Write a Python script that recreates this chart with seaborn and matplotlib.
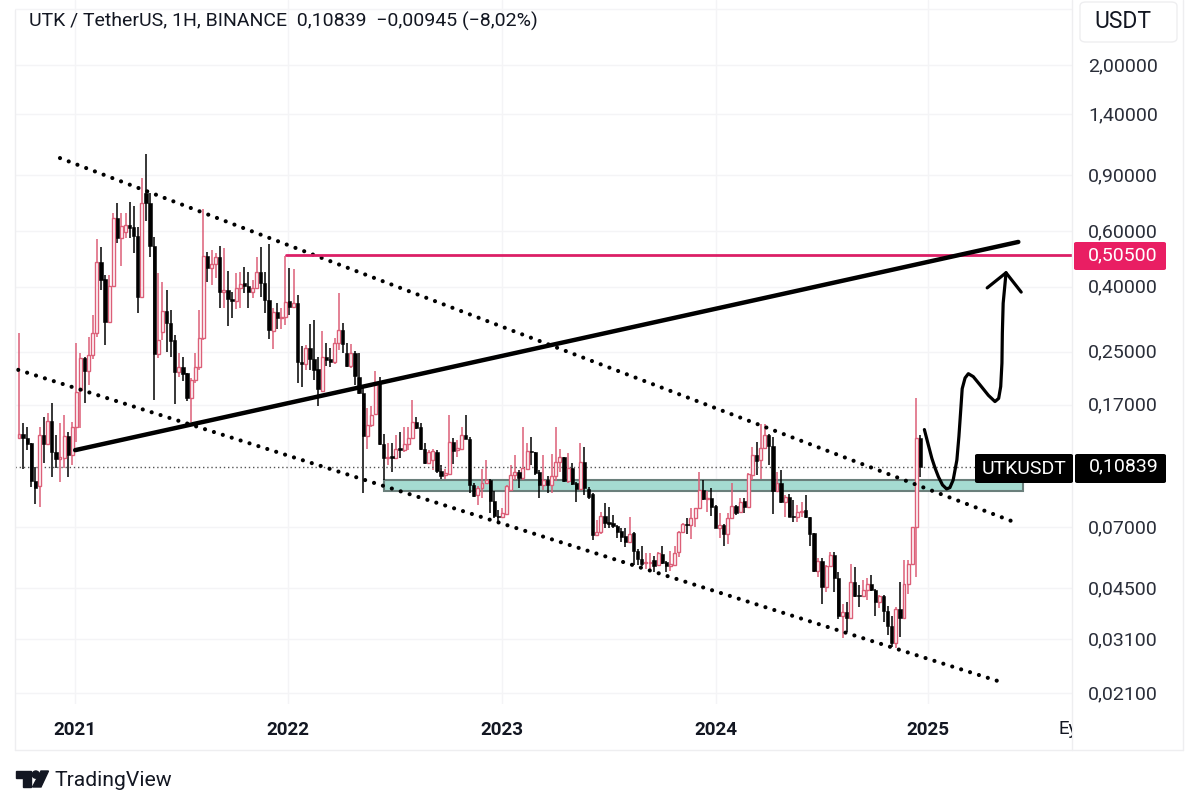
import numpy as np
import pandas as pd
import seaborn as sns
import matplotlib
matplotlib.use("Agg")
import matplotlib.pyplot as plt
from matplotlib.lines import Line2D
from matplotlib.patches import FancyBboxPatch, Polygon, Circle, Rectangle
from matplotlib.transforms import Bbox, ScaledTranslation

# one candle per week, R = up, B = down
direction = ("RBBBBRBRBB" "RRBRRRBRRR" "BBRRBRRBBB" "RBBBRRBBBR" "BBRRRRBRRB"
             "RBBRRBBRRB" "BBRBRRBRBB" "RBBBRBBRRB" "BRBBBRRRBB" "RBRBRRRBBB"
             "RRBBRRBRRB" "BBRRRBBBRR" "RRBRRBBBRB" "RRRBRBBRBB" "BRRBBBBBBR"
             "BBBRRBRBBR" "RRRBRRRBRB" "BRBRRBRBRR" "BRRBBRBRBB" "RRBBBRBRRB"
             "BRBRBBRRBB" "RBBBRBRRRR" "B")

body_top = [
    .138, .138, .134, .1287, .0978, .137, .137, .151, .151, .1205,
    .1163, .136, .136, .145, .186, .239, .239, .244, .286, .479,
    .479, .424, .402, .659, .659, .622, .626, .626, .617, .578,
    .735, .79, .735, .538, .272, .336, .336, .307, .272, .224,
    .224, .214, .203, .224, .276, .50, .50, .472, .496, .496,
    .391, .391, .367, .397, .408, .411, .402, .397, .446, .446,
    .411, .363, .333, .333, .321, .358, .361, .355, .355, .232,
    .257, .257, .237, .221, .241, .241, .237, .266, .292, .292,
    .248, .248, .248, .208, .185, .147, .158, .2, .2, .1277,
    .1163, .1171, .1232, .1241, .1277, .134, .15, .15, .145, .1232,
    .1205, .1214, .1205, .1051, .1036, .1296, .1296, .1241, .137, .137,
    .133, .095, .093, .0964, .0985, .0985, .0846, .076, .0776, .0943,
    .1021, .1043, .1043, .1074, .1214, .1214, .1205, .1043, .0985, .0985,
    .1014, .1122, .1163, .1163, .1074, .1074, .0964, .1122, .1122, .0923,
    .089, .0677, .076, .076, .0727, .0722, .0707, .0682, .0658, .0667,
    .0672, .0587, .0554, .0543, .0543, .055, .0578, .0574, .0543, .0535,
    .0578, .0677, .0717, .0717, .0749, .0805, .0916, .0916, .0865, .0865,
    .0816, .0712, .0712, .0749, .0816, .0816, .084, .0846, .1028, .118,
    .118, .1241, .137, .137, .1259, .0964, .0964, .0871, .0871, .076,
    .0782, .0787, .0793, .0754, .0672, .0547, .0547, .0528, .057, .057,
    .0484, .0379, .0379, .047, .047, .0428, .0444, .0464, .0464, .0444,
    .0425, .0425, .0382, .0341, .0387, .0387, .0464, .0535, .0702, .134,
    .134]

body_bot = [
    .134, .134, .1277, .0978, .093, .0943, .1277, .1277, .1205, .1146,
    .1146, .1154, .118, .118, .145, .189, .217, .217, .244, .286,
    .42, .31, .31, .402, .57, .57, .595, .613, .578, .372,
    .372, .735, .538, .246, .246, .288, .307, .27, .216, .216,
    .213, .178, .178, .203, .224, .276, .459, .459, .472, .385,
    .385, .367, .361, .361, .397, .402, .385, .385, .397, .411,
    .363, .292, .29, .319, .319, .321, .345, .345, .232, .229,
    .229, .237, .219, .19, .188, .235, .232, .232, .266, .264,
    .225, .225, .21, .185, .136, .136, .147, .159, .1277, .1154,
    .1154, .1154, .1154, .1223, .1223, .1277, .134, .144, .1232, .1113,
    .1113, .1138, .1051, .1014, .1021, .1028, .1214, .1223, .1232, .133,
    .095, .0877, .0884, .093, .0964, .0846, .076, .0754, .0754, .0771,
    .0916, .1021, .0999, .0999, .1066, .1205, .1036, .095, .095, .095,
    .095, .1014, .1122, .0978, .0978, .0957, .0923, .0923, .093, .0871,
    .0663, .0663, .0677, .0722, .0717, .0707, .0677, .0653, .0626, .0626,
    .0587, .0554, .0535, .0539, .0539, .0527, .0531, .0539, .0527, .0527,
    .0531, .0583, .0677, .0712, .0712, .0749, .0805, .0859, .0859, .081,
    .0697, .0697, .0667, .0667, .0749, .0776, .0782, .081, .081, .1021,
    .113, .1138, .1241, .1259, .091, .091, .084, .084, .0754, .0754,
    .0754, .0782, .0754, .0667, .0509, .0509, .0454, .0454, .0528, .0484,
    .0366, .0366, .0363, .0363, .0425, .0425, .0425, .0444, .0444, .0405,
    .0405, .0382, .0341, .0302, .0302, .0363, .0363, .0464, .0535, .0702,
    .1084]

highs = [
    .286, .149, .145, .1287, .1082, .145, .155, .160, .172, .137,
    .149, .158, .140, .150, .266, .248, .241, .278, .326, .566,
    .534, .436, .436, .683, .735, .683, .683, .741, .719, .617,
    .881, 1.049, .79, .574, .443, .414, .391, .338, .282, .248,
    .241, .214, .207, .248, .338, .704, .515, .522, .511, .538,
    .53, .449, .385, .443, .446, .462, .446, .42, .496, .534,
    .446, .546, .343, .355, .343, .50, .459, .455, .377, .26,
    .262, .305, .314, .241, .29, .266, .257, .276, .383, .307,
    .266, .264, .251, .248, .192, .166, .168, .217, .208, .138,
    .1287, .1287, .137, .14, .145, .145, .176, .155, .149, .1287,
    .1223, .1232, .1223, .1097, .1066, .158, .134, .1315, .145, .158,
    .135, .0964, .0943, .1066, .1138, .0992, .091, .0793, .0805, .095,
    .1097, .118, .1058, .145, .1287, .135, .1205, .1058, .118, .1014,
    .1188, .145, .1232, .1163, .1197, .1113, .0971, .1287, .125, .0936,
    .0897, .0738, .0782, .0834, .081, .0765, .0712, .0697, .0697, .0754,
    .0677, .0595, .0612, .0578, .0578, .0566, .0583, .0608, .0546, .0587,
    .0608, .0682, .0722, .0749, .0805, .0805, .1043, .0985, .091, .093,
    .0822, .0776, .0717, .0776, .0964, .0822, .0865, .0865, .1036, .125,
    .1296, .148, .148, .138, .135, .1043, .1058, .0884, .089, .0853,
    .0822, .084, .0884, .0754, .0672, .0558, .0558, .0532, .0583, .0583,
    .0506, .0402, .0405, .0535, .0524, .046, .0477, .0484, .0495, .0447,
    .0428, .0428, .0396, .0366, .0393, .047, .0551, .0551, .0702, .178,
    .137]

lows = [
    .134, .1066, .1223, .0936, .0828, .081, .1113, .1268, .1006, .1074,
    .0971, .1074, .1006, .1097, .1296, .144, .172, .196, .237, .278,
    .391, .262, .307, .40, .55, .465, .57, .57, .511, .331,
    .369, .645, .496, .176, .239, .272, .249, .241, .171, .208,
    .202, .175, .15, .199, .219, .272, .414, .405, .427, .343,
    .343, .301, .319, .34, .343, .383, .343, .369, .394, .372,
    .331, .274, .255, .294, .294, .303, .326, .343, .199, .193,
    .219, .219, .203, .168, .186, .225, .224, .229, .253, .248,
    .224, .222, .196, .184, .0897, .1232, .145, .158, .1268, .0985,
    .1097, .1043, .1146, .1154, .1205, .1223, .134, .143, .1223, .1105,
    .1105, .1058, .1036, .0992, .0992, .1021, .1105, .1163, .1223, .133,
    .0897, .0871, .0822, .0865, .0964, .0776, .0749, .0733, .0749, .0765,
    .091, .0985, .093, .0985, .1058, .1097, .1021, .0865, .0916, .0897,
    .0897, .0978, .1043, .0971, .0964, .095, .084, .0916, .0884, .0859,
    .0639, .0658, .0667, .0697, .0697, .0697, .0648, .063, .0604, .0626,
    .0531, .0531, .0527, .0516, .0505, .0505, .0527, .0535, .0505, .0509,
    .0527, .0562, .0677, .0667, .0644, .0702, .0799, .0853, .0782, .076,
    .0697, .0648, .0612, .0617, .0743, .0765, .0776, .0776, .0805, .0985,
    .1021, .0992, .1232, .1097, .0771, .0903, .0834, .0754, .0754, .0727,
    .0727, .0754, .0749, .0612, .0506, .0488, .0402, .0438, .0524, .0438,
    .0358, .0313, .0327, .0358, .0422, .0393, .0422, .0413, .0441, .0366,
    .039, .0352, .032, .0294, .0291, .0315, .0358, .0432, .0532, .0488,
    .1006]

# axis labels
price_ticks = [2.0, 1.4, 0.9, 0.6, 0.4, 0.25, 0.17, 0.07, 0.045, 0.031, 0.021]
grid_only_ticks = [3.0]
year_weeks = [13.6, 65.7, 117.9, 170.0, 221.8]
year_labels = ["2021", "2022", "2023", "2024", "2025"]

# hand drawn lines, x in weeks from the first candle
upper_week, upper_price = [10.0, 243.0], [1.018, 0.0725]
lower_week, lower_price = [-0.2, 239.4], [0.219, 0.0228]
support_week, support_price = [13.7, 243.9], [0.1223, 0.554]
target_week, target_price = [65.2, 257.0], [0.505, 0.505]
last_week, last_price = [-1.0, 257.0], [0.10839, 0.10839]
zone_week, zone_low, zone_high = [89.1, 245.1], 0.091, 0.0985
path_week = [220.97, 221.95, 222.8, 223.6, 224.4, 225.4, 226.4, 227.2, 228.0, 228.9, 229.4, 229.9, 230.2,
             230.9, 231.7, 232.9, 234.6, 236.6, 238.2, 239.1, 239.6, 239.9, 240.0, 240.2, 240.9]
path_price = [.142, .1268, .1152, .1072, .1008, .095, .0923, .0932, .0985, .1138, .1352, .1675, .191,
              .2065, .213, .2085, .196, .182, .174, .178, .194, .230, .286, .355, .443]
head_week = [236.3, 240.9, 244.6]
head_price = [.397, .443, .385]

W, H = 1200, 807
RED = "#dc5f78"
INK = "#131722"
GRID = "#f4f4f6"
PINK = "#e91e63"

sns.set_theme(style="white")
plt.rcParams["font.family"] = ["Roboto", "DejaVu Sans"]

fig = plt.figure(figsize=(W / 100, H / 100), dpi=100)
ax = fig.add_axes([15 / W, (H - 704) / H, 1057 / W, 704 / H])


def fx(x):
    return x / W


def fy(y):
    return 1 - y / H


df = pd.DataFrame({"top": body_top, "bot": body_bot, "high": highs, "low": lows,
                   "dir": list(direction)})
df["week"] = np.arange(len(df))
df["color"] = df["dir"].map({"R": RED, "B": "black"})

ax.set_yscale("log")
ax.set_xlim(-0.98, 257.0)
ax.set_ylim(0.01939, 3.205)

# zone under the candles
ax.add_patch(Rectangle((zone_week[0], zone_low), zone_week[1] - zone_week[0], zone_high - zone_low,
                       facecolor="#a5dbd1", edgecolor="#6a7f7b", lw=1.5, zorder=2))

# wicks and bodies
ax.vlines(df["week"], df["low"], df["high"], colors=df["color"], lw=1.1, zorder=3)
up = df[df["dir"] == "R"]
down = df[df["dir"] == "B"]
ax.bar(up["week"], up["top"] - up["bot"], bottom=up["bot"], width=0.72,
       facecolor="white", edgecolor=RED, lw=1.0, zorder=4)
ax.bar(down["week"], down["top"] - down["bot"], bottom=down["bot"], width=0.8,
       facecolor="black", edgecolor="black", lw=0.4, zorder=4)

# trend lines
sns.lineplot(x=last_week, y=last_price, ax=ax, color="#555555", lw=1.0,
             linestyle=(0, (1, 2)), zorder=3)
dot_style = dict(color="black", lw=3.0, linestyle=(0, (0.01, 2.23)), dash_capstyle="round", zorder=5)
sns.lineplot(x=upper_week, y=upper_price, ax=ax, **dot_style)
sns.lineplot(x=lower_week, y=lower_price, ax=ax, **dot_style)
sns.lineplot(x=target_week, y=target_price, ax=ax, color="#dc1f66", lw=2.0, zorder=5)
sns.lineplot(x=support_week, y=support_price, ax=ax, color="black", lw=3.2,
             solid_capstyle="round", zorder=6)
sns.lineplot(x=path_week, y=path_price, ax=ax, sort=False, estimator=None, color="black", lw=2.3,
             solid_capstyle="round", solid_joinstyle="round", zorder=6)
sns.lineplot(x=head_week, y=head_price, ax=ax, sort=False, estimator=None, color="black", lw=2.3,
             solid_capstyle="round", zorder=6)

# axes dressing
ax.set_yticks(price_ticks + grid_only_ticks)
ax.set_yticklabels([f"{p:.5f}".replace(".", ",") for p in price_ticks] + [""] * len(grid_only_ticks))
ax.minorticks_off()
ax.set_xticks(year_weeks)
ax.set_xticklabels(year_labels, fontweight="bold", fontsize=13.5, color=INK)
ax.tick_params(axis="x", length=0, pad=12.5)
ax.tick_params(axis="y", length=0, pad=11.5, labelsize=14, labelcolor="#2a2e39",
               left=False, right=False, labelleft=False, labelright=True)
up_1px = ScaledTranslation(0, 1 / 100, fig.dpi_scale_trans)
for lab in ax.get_yticklabels():
    lab.set_transform(lab.get_transform() + up_1px)
ax.grid(True, color=GRID, lw=1.0, zorder=0)
ax.set_axisbelow(True)
for s in ax.spines.values():
    s.set_visible(False)
ax.set_xlabel("")
ax.set_ylabel("")

# frame lines
for xs, ys in [((15, 15), (10, 750)), ((15, 1183), (750, 750)),
               ((1072, 1072), (0, 750)), ((1183, 1183), (0, 750))]:
    fig.add_artist(Line2D([fx(xs[0]), fx(xs[1])], [fy(ys[0]), fy(ys[1])], color="#eeeef0", lw=1.0))

ey = fig.text(fx(1059), fy(729), "Ey", fontsize=13.5, color=INK, va="center", ha="left")
ey.set_clip_on(True)
ey.set_clip_box(Bbox([[0, 0], [1072, H]]))

# header
fig.text(fx(29), fy(21), "UTK / TetherUS, 1H, BINANCE  0,10839  \u22120,00945 (\u22128,02%)",
         fontsize=14.0, color=INK, va="center", ha="left")


def label_box(x0, x1, y0, y1, color):
    fig.add_artist(FancyBboxPatch((fx(x0), fy(y1)), fx(x1 - x0), (y1 - y0) / H,
                                  boxstyle="round,pad=0,rounding_size=0.002",
                                  transform=fig.transFigure, facecolor=color, edgecolor="none",
                                  zorder=8))


# USDT button
fig.add_artist(FancyBboxPatch((fx(1080), fy(42)), fx(97), 40 / H,
                              boxstyle="round,pad=0,rounding_size=0.005",
                              transform=fig.transFigure, facecolor="white", edgecolor="#eeeef0",
                              lw=1.0, zorder=7))
fig.text(fx(1123), fy(22), "USDT", fontsize=16.5, color=INK, va="center", ha="center", zorder=9)

# price labels
label_box(1074, 1166, 242, 270, PINK)
fig.text(fx(1123), fy(255), "0,50500", fontsize=14, color="white", va="center", ha="center", zorder=9)
label_box(975, 1073, 454, 483, "black")
label_box(1075, 1166, 454, 483, "black")
fig.text(fx(1024), fy(469), "UTKUSDT", fontsize=14, color="white", va="center", ha="center", zorder=9)
fig.text(fx(1124), fy(466), "0,10839", fontsize=14, color="white", va="center", ha="center", zorder=9)

# TradingView logo
fig.add_artist(Polygon([(fx(16), fy(771)), (fx(31), fy(771)), (fx(31), fy(787)), (fx(23), fy(787)),
                        (fx(23), fy(778)), (fx(16), fy(778))], closed=True, color=INK,
                       transform=fig.transFigure))
fig.add_artist(Polygon([(fx(41), fy(771)), (fx(48.5), fy(771)), (fx(41), fy(787)), (fx(32.5), fy(787))],
                       closed=True, color=INK, transform=fig.transFigure))
logo_ax = fig.add_axes([0, 0, 1, 1], facecolor="none")
logo_ax.set_xlim(0, W)
logo_ax.set_ylim(H, 0)
logo_ax.axis("off")
logo_ax.add_patch(Circle((35.8, 774.6), 3.6, color=INK))
fig.text(fx(54), fy(780), "TradingView", fontsize=15.2, color=INK, va="center", ha="left")

fig.savefig("out.png", dpi=100)
